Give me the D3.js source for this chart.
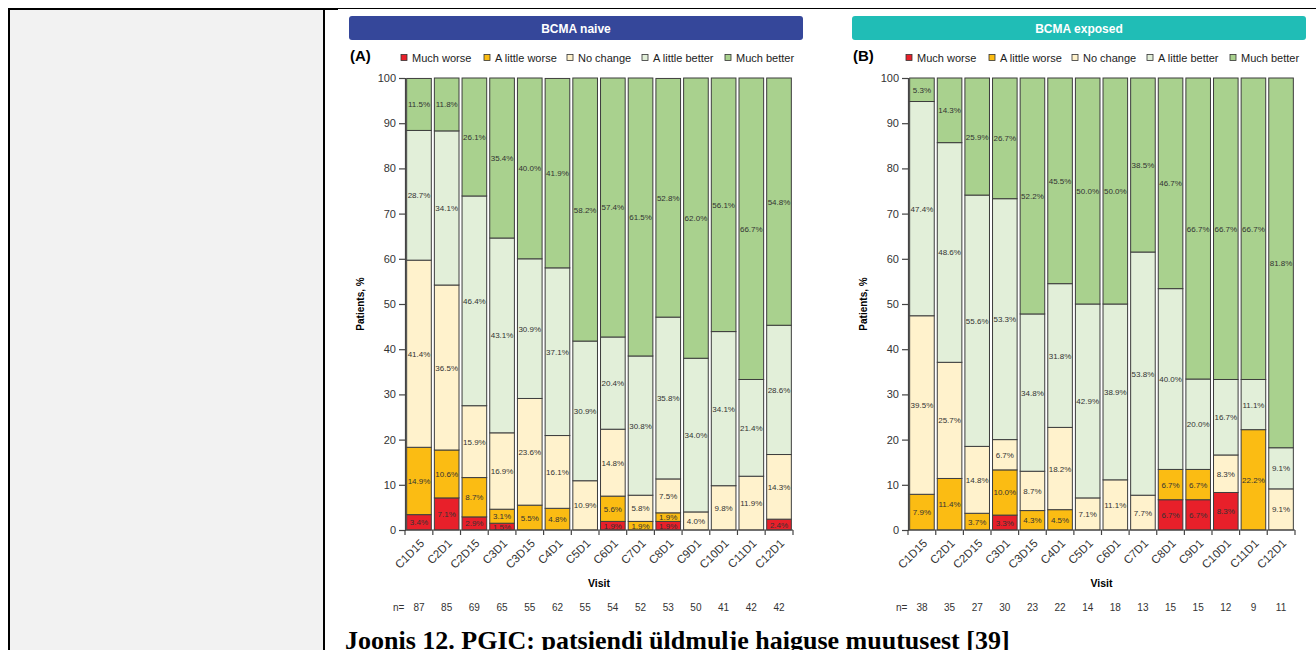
<!DOCTYPE html>
<html>
<head>
<meta charset="utf-8">
<script src="https://cdn.jsdelivr.net/npm/d3@7"></script>
<style>
  body { margin: 0; background: #fff; }
  svg { display: block; }
</style>
</head>
<body>
<svg id="chart" width="1316" height="650"></svg>
<script>
// visits on the x axis
const visits = ["C1D15","C2D1","C2D15","C3D1","C3D15","C4D1","C5D1","C6D1","C7D1","C8D1","C9D1","C10D1","C11D1","C12D1"];
const categories = ["Much worse","A little worse","No change","A little better","Much better"];
const yTicks = [0,10,20,30,40,50,60,70,80,90,100];

// BCMA naive (A)
const naiveMuchWorse     = [3.4,7.1,2.9,1.5,0,0,0,1.9,0,1.9,0,0,0,2.4];
const naiveLittleWorse   = [14.9,10.6,8.7,3.1,5.5,4.8,0,5.6,1.9,1.9,0,0,0,0];
const naiveNoChange      = [41.4,36.5,15.9,16.9,23.6,16.1,10.9,14.8,5.8,7.5,4.0,9.8,11.9,14.3];
const naiveLittleBetter  = [28.7,34.1,46.4,43.1,30.9,37.1,30.9,20.4,30.8,35.8,34.0,34.1,21.4,28.6];
const naiveMuchBetter    = [11.5,11.8,26.1,35.4,40.0,41.9,58.2,57.4,61.5,52.8,62.0,56.1,66.7,54.8];
const naiveN             = [87,85,69,65,55,62,55,54,52,53,50,41,42,42];

// BCMA exposed (B)
const exposedMuchWorse    = [0,0,0,3.3,0,0,0,0,0,6.7,6.7,8.3,0,0];
const exposedLittleWorse  = [7.9,11.4,3.7,10.0,4.3,4.5,0,0,0,6.7,6.7,0,22.2,0];
const exposedNoChange     = [39.5,25.7,14.8,6.7,8.7,18.2,7.1,11.1,7.7,0,0,8.3,0,9.1];
const exposedLittleBetter = [47.4,48.6,55.6,53.3,34.8,31.8,42.9,38.9,53.8,40.0,20.0,16.7,11.1,9.1];
const exposedMuchBetter   = [5.3,14.3,25.9,26.7,52.2,45.5,50.0,50.0,38.5,46.7,66.7,66.7,66.7,81.8];
const exposedN            = [38,35,27,30,23,22,14,18,13,15,15,12,9,11];

const colors = ["#e8202a","#fbbc13","#fff2cc","#e2efd9","#a9d18e"];
const sans = "'Liberation Sans', Arial, sans-serif";

const svg = d3.select("#chart");

// page frame: grey table cell on the left
svg.append("rect").attr("x", 9).attr("y", 9).attr("width", 315).attr("height", 660).attr("fill", "#f2f2f2");
svg.append("line").attr("x1", 8).attr("x2", 338).attr("y1", 9).attr("y2", 9).attr("stroke", "#000").attr("stroke-width", 2);
svg.append("line").attr("x1", 338).attr("x2", 1316).attr("y1", 8.5).attr("y2", 8.5).attr("stroke", "#000").attr("stroke-width", 1);
svg.append("line").attr("x1", 9).attr("x2", 9).attr("y1", 8).attr("y2", 650).attr("stroke", "#000").attr("stroke-width", 2);
svg.append("line").attr("x1", 324).attr("x2", 324).attr("y1", 8).attr("y2", 650).attr("stroke", "#000").attr("stroke-width", 2);

function drawPanel(p) {
  const g = svg.append("g");
  const rows = visits.map((v, i) => {
    const r = { visit: v, n: p.n[i] };
    categories.forEach((c, k) => r[c] = p.series[k][i]);
    return r;
  });
  const stacked = d3.stack().keys(categories)(rows);

  const x = d3.scaleBand().domain(visits).range([p.x0, p.x1]).paddingInner(0.11).paddingOuter(0.06);
  const y = d3.scaleLinear().domain([0, 100]).range([530, 78]);

  // header bar
  g.append("rect").attr("x", p.hx).attr("y", 16).attr("width", p.hw).attr("height", 24)
    .attr("rx", 3).attr("fill", p.headColor);
  g.append("text").attr("x", p.hx + p.hw / 2).attr("y", 32.5).attr("text-anchor", "middle")
    .attr("fill", "#fff").style("font", "bold 12px " + sans).text(p.title);

  // panel letter
  g.append("text").attr("x", p.hx + 1).attr("y", 61).style("font", "bold 15px " + sans).text(p.letter);

  // legend
  const leg = g.append("g");
  categories.forEach((c, k) => {
    leg.append("rect").attr("x", p.legX[k]).attr("y", 54.5).attr("width", 6).attr("height", 6)
      .attr("fill", colors[k]).attr("stroke", "#333").attr("stroke-width", 0.8);
    leg.append("text").attr("x", p.legX[k] + 11).attr("y", 62).attr("fill", "#222")
      .style("font", "11px " + sans).text(c);
  });

  // bars
  const layer = g.selectAll("g.layer").data(stacked).join("g").attr("class", "layer")
    .attr("fill", (d, k) => colors[k]);
  layer.selectAll("rect").data(d => d.filter(s => s[1] - s[0] > 0)).join("rect")
    .attr("x", d => x(d.data.visit))
    .attr("width", x.bandwidth())
    .attr("y", d => y(Math.min(100, d[1])))
    .attr("height", d => y(d[0]) - y(Math.min(100, d[1])))
    .attr("stroke", "#3d3d3d").attr("stroke-width", 1);

  // segment labels
  stacked.forEach((s, k) => {
    g.append("g").selectAll("text").data(s.filter(d => d[1] - d[0] > 0)).join("text")
      .attr("x", d => x(d.data.visit) + x.bandwidth() / 2)
      .attr("y", d => y((d[0] + Math.min(100, d[1])) / 2) + 3)
      .attr("text-anchor", "middle").attr("fill", "#333")
      .style("font", "8px " + sans)
      .text(d => (d[1] - d[0]).toFixed(1) + "%");
  });

  // y axis
  const ya = g.append("g").attr("transform", "translate(" + p.x0 + ",0)")
    .call(d3.axisLeft(y).tickValues(yTicks).tickSize(6).tickPadding(3));
  ya.selectAll("text").style("font", "11px " + sans).attr("fill", "#333");
  ya.selectAll("line, path").attr("stroke", "#444").attr("stroke-width", 1.2);

  // x axis with ticks on band boundaries
  const xa = g.append("g").attr("transform", "translate(0,530)");
  xa.append("line").attr("x1", p.x0).attr("x2", p.x1).attr("stroke", "#444").attr("stroke-width", 1.2);
  const bounds = [p.x0].concat(visits.slice(1).map(v => x(v) - x.step() * x.paddingInner() / 2)).concat([p.x1]);
  xa.selectAll("line.tk").data(bounds).join("line").attr("class", "tk")
    .attr("x1", d => d).attr("x2", d => d).attr("y1", 0).attr("y2", 5)
    .attr("stroke", "#444").attr("stroke-width", 1.2);
  xa.selectAll("text").data(visits).join("text")
    .attr("transform", d => "translate(" + (x(d) + x.bandwidth() / 2 + 6) + ",14) rotate(-45)")
    .attr("text-anchor", "end").attr("fill", "#333")
    .style("font", "11.5px " + sans).text(d => d);

  // axis titles
  g.append("text").attr("transform", "translate(" + (p.x0 - 41) + ",304) rotate(-90)")
    .attr("text-anchor", "middle").style("font", "bold 10px " + sans).text("Patients, %");
  g.append("text").attr("x", (p.x0 + p.x1) / 2).attr("y", 587)
    .attr("text-anchor", "middle").style("font", "bold 10.5px " + sans).text("Visit");

  // n row
  g.append("text").attr("x", p.x0 - 12).attr("y", 611).attr("fill", "#333")
    .style("font", "10px " + sans).text("n=");
  g.append("g").selectAll("text").data(rows).join("text")
    .attr("x", d => x(d.visit) + x.bandwidth() / 2).attr("y", 611)
    .attr("text-anchor", "middle").attr("fill", "#333")
    .style("font", "10px " + sans).text(d => d.n);
}

drawPanel({
  title: "BCMA naive", letter: "(A)", headColor: "#35479a",
  hx: 349, hw: 454, x0: 405, x1: 793,
  legX: [401, 484, 567, 642, 725],
  series: [naiveMuchWorse, naiveLittleWorse, naiveNoChange, naiveLittleBetter, naiveMuchBetter],
  n: naiveN
});

drawPanel({
  title: "BCMA exposed", letter: "(B)", headColor: "#20bdb6",
  hx: 852, hw: 454, x0: 908, x1: 1295,
  legX: [906, 989, 1072, 1147, 1230],
  series: [exposedMuchWorse, exposedLittleWorse, exposedNoChange, exposedLittleBetter, exposedMuchBetter],
  n: exposedN
});

// caption
svg.append("text").attr("x", 345).attr("y", 649)
  .style("font", "bold 26px 'Liberation Serif', 'Times New Roman', serif")
  .text("Joonis 12. PGIC: patsiendi üldmulje haiguse muutusest [39]");
</script>
</body>
</html>
